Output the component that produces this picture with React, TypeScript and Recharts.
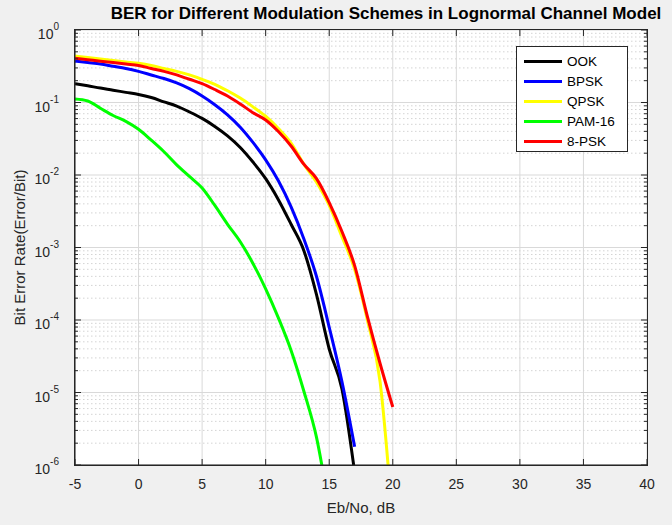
import { LineChart, Line, XAxis, YAxis, CartesianGrid, ReferenceLine } from 'recharts'

// Eb/No axis (dB)
const ebno = [-5, -4, -3, -2, -1, 0, 1, 2, 3, 4, 5, 6, 7, 8, 9, 10, 11, 12, 13, 14, 15, 16, 17, 18, 19, 20]

// BER, one value per Eb/No point (null = curve already ended)
const ook = [0.182, 0.170, 0.158, 0.148, 0.138, 0.129, 0.117, 0.102, 0.0891, 0.0741, 0.0603, 0.0468, 0.0347, 0.024, 0.0151, 0.00891, 0.00457, 0.00209, 0.000912, 0.000224, 3.98e-5, 1.12e-5, 7.9e-7, null, null, null]
const bpsk = [0.372, 0.355, 0.339, 0.316, 0.295, 0.269, 0.24, 0.214, 0.186, 0.155, 0.123, 0.0933, 0.0676, 0.0457, 0.0282, 0.0162, 0.00832, 0.00363, 0.00132, 0.000398, 7.94e-5, 1.41e-5, 1.78e-6, null, null, null]
const qpsk = [0.437, 0.417, 0.398, 0.38, 0.363, 0.347, 0.324, 0.295, 0.269, 0.24, 0.209, 0.178, 0.145, 0.115, 0.0871, 0.0646, 0.0437, 0.0275, 0.0141, 0.00794, 0.0038, 0.00141, 0.000501, 1.0e-4, 1.41e-5, 1.6e-7]
const pam16 = [0.112, 0.105, 0.0832, 0.0661, 0.055, 0.0427, 0.0302, 0.0209, 0.0138, 0.00955, 0.00661, 0.0038, 0.00209, 0.0012, 0.000603, 0.000269, 0.000107, 3.8e-5, 1.05e-5, 2.4e-6, 2.5e-7, null, null, null, null, null]
const psk8 = [0.407, 0.389, 0.372, 0.355, 0.339, 0.324, 0.295, 0.269, 0.24, 0.209, 0.182, 0.151, 0.123, 0.0955, 0.0724, 0.0575, 0.0398, 0.0251, 0.0141, 0.00891, 0.00417, 0.00166, 0.000562, 0.000112, 2.51e-5, 6.3e-6]

const xTicks = [-5, 0, 5, 10, 15, 20, 25, 30, 35, 40]
const yTicks = [1e-6, 1e-5, 1e-4, 1e-3, 1e-2, 1e-1, 1]
const yMinor = [2, 3, 4, 5, 6, 7, 8, 9].flatMap(m => [1e-6, 1e-5, 1e-4, 1e-3, 1e-2, 1e-1].map(d => m * d))

const series = [
  { key: 'ook', name: 'OOK', color: '#000000' },
  { key: 'bpsk', name: 'BPSK', color: '#0000ff' },
  { key: 'qpsk', name: 'QPSK', color: '#ffff00' },
  { key: 'pam16', name: 'PAM-16', color: '#00ff00' },
  { key: 'psk8', name: '8-PSK', color: '#ff0000' },
]

const data = ebno.map((x, i) => ({
  x,
  ook: ook[i],
  bpsk: bpsk[i],
  qpsk: qpsk[i],
  pam16: pam16[i],
  psk8: psk8[i],
}))

const FONT = '"Liberation Sans", Arial, sans-serif'
const AXIS = '#262626'

const X_MIN = -5
const X_MAX = 40
const Y_MIN = 1e-6
const Y_MAX = 1
// inward tick lengths in data units (about 12.7 px per dB, 72.5 px per decade)
const tickX = 6 / 12.7
const tickXMinor = 3 / 12.7
const tickYFactor = Math.pow(10, 6 / 72.5)

function YTick({ x, y, payload }: any) {
  const exp = Math.round(Math.log10(payload.value))
  return (
    <text x={x} y={y} textAnchor="end" fill={AXIS} fontSize={14} fontFamily={FONT}>
      <tspan dy={9}>10</tspan>
      <tspan dy={-9} fontSize={10}>{exp}</tspan>
    </text>
  )
}

function LegendBox() {
  return (
    <div
      style={{
        position: 'absolute',
        left: 516,
        top: 46,
        width: 112,
        height: 106,
        background: '#fff',
        border: '1px solid #262626',
        fontFamily: FONT,
        fontSize: 13.5,
        color: '#000',
        boxSizing: 'border-box',
        paddingTop: 4,
      }}
    >
      {series.map(s => (
        <div key={s.key} style={{ display: 'flex', alignItems: 'center', height: 20 }}>
          <div style={{ marginLeft: 7, width: 38, height: 3, background: s.color }} />
          <span style={{ marginLeft: 5 }}>{s.name}</span>
        </div>
      ))}
    </div>
  )
}

export default function App() {
  return (
    <div style={{ position: 'absolute', left: 0, top: 0, width: 672, height: 525, background: '#f0f0f0' }}>
      <LineChart width={672} height={525} data={data} margin={{ top: 30, right: 25, bottom: 0, left: 0 }}>
        <CartesianGrid stroke="#d9d9d9" fill="#ffffff" fillOpacity={1} />
        {yMinor.map(v => (
          <ReferenceLine key={`g${v}`} y={v} stroke="#d4d4d4" strokeDasharray="1.5 2.5" />
        ))}
        <XAxis
          type="number"
          dataKey="x"
          domain={[X_MIN, X_MAX]}
          ticks={xTicks}
          height={60}
          stroke={AXIS}
          axisLine={{ stroke: AXIS, strokeWidth: 1 }}
          tickLine={false}
          tickMargin={8}
          tick={{ fill: AXIS, fontSize: 14, fontFamily: FONT }}
          label={{ value: 'Eb/No, dB', position: 'insideBottom', offset: 12, fill: AXIS, fontSize: 15, fontFamily: FONT }}
        />
        <YAxis
          scale="log"
          type="number"
          domain={[Y_MIN, Y_MAX]}
          allowDataOverflow
          ticks={yTicks}
          width={75}
          stroke={AXIS}
          axisLine={{ stroke: AXIS, strokeWidth: 1 }}
          tickLine={false}
          tickMargin={10}
          tick={<YTick />}
          label={{ value: 'Bit Error Rate(Error/Bit)', angle: -90, position: 'insideLeft', offset: 20, fill: AXIS, fontSize: 15, fontFamily: FONT, style: { textAnchor: 'middle' } }}
        />
        {series.map(s => (
          <Line
            key={s.key}
            type="monotone"
            dataKey={s.key}
            name={s.name}
            stroke={s.color}
            strokeWidth={3}
            dot={false}
            isAnimationActive={false}
          />
        ))}
        {xTicks.map(t => (
          <ReferenceLine key={`xb${t}`} segment={[{ x: t, y: Y_MIN }, { x: t, y: Y_MIN * tickYFactor }]} stroke={AXIS} />
        ))}
        {xTicks.map(t => (
          <ReferenceLine key={`xt${t}`} segment={[{ x: t, y: Y_MAX }, { x: t, y: Y_MAX / tickYFactor }]} stroke={AXIS} />
        ))}
        {yTicks.map(t => (
          <ReferenceLine key={`yl${t}`} segment={[{ x: X_MIN, y: t }, { x: X_MIN + tickX, y: t }]} stroke={AXIS} />
        ))}
        {yTicks.map(t => (
          <ReferenceLine key={`yr${t}`} segment={[{ x: X_MAX, y: t }, { x: X_MAX - tickX, y: t }]} stroke={AXIS} />
        ))}
        {yMinor.map(t => (
          <ReferenceLine key={`ml${t}`} segment={[{ x: X_MIN, y: t }, { x: X_MIN + tickXMinor, y: t }]} stroke={AXIS} />
        ))}
        {yMinor.map(t => (
          <ReferenceLine key={`mr${t}`} segment={[{ x: X_MAX, y: t }, { x: X_MAX - tickXMinor, y: t }]} stroke={AXIS} />
        ))}
      </LineChart>
      {/* axes box frame */}
      <div
        style={{
          position: 'absolute',
          left: 74,
          top: 29,
          width: 574,
          height: 437,
          border: '1px solid #262626',
          boxSizing: 'border-box',
          pointerEvents: 'none',
        }}
      />
      <div
        style={{
          position: 'absolute',
          left: 0,
          width: 772,
          top: 4,
          textAlign: 'center',
          fontFamily: FONT,
          fontSize: 17,
          fontWeight: 'bold',
          color: '#000',
          whiteSpace: 'nowrap',
        }}
      >
        BER for Different Modulation Schemes in Lognormal Channel Model
      </div>
      <LegendBox />
    </div>
  )
}
